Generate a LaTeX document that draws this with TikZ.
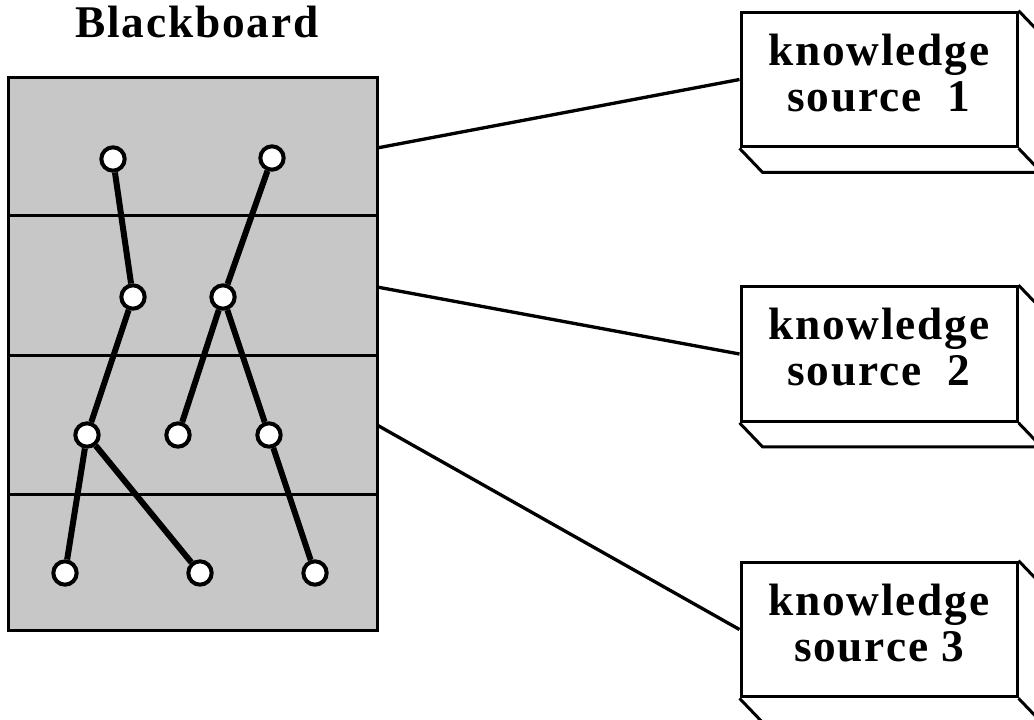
\documentclass[tikz,border=0pt]{standalone}
\usepackage{fontspec}
\setmainfont{Liberation Serif}[LetterSpace=4]
\begin{document}
\begin{tikzpicture}[x=0.75pt,y=-0.75pt,
  every node/.style={font=\fontsize{34}{34.5}\selectfont\bfseries},
  entry/.style={circle,draw,line width=3pt,fill=white,minimum size=17.5pt,inner sep=0pt},
  branch/.style={line width=4.5pt},
  link/.style={line width=2.5pt},
  ks/.style={draw,line width=2.25pt,fill=white,minimum width=207pt,minimum height=101pt,align=center,inner sep=0pt,text depth=10.5pt}]
  \clip (0,0) rectangle (1034,720);
  % the blackboard and its levels
  \node[draw,line width=2.25pt,fill=black!22,minimum width=276.75pt,minimum height=414pt,inner sep=0pt] (board) at (192.5,354) {};
  \draw[line width=2.25pt] (8,216) -- (377,216);
  \draw[line width=2.25pt] (8,355) -- (377,355);
  \draw[line width=2.25pt] (8,494) -- (377,494);
  \node[anchor=base] (title) at (197,38) {Blackboard};
  % hypotheses
  \node[entry] (a1) at (113,159) {};
  \node[entry] (a2) at (272,158) {};
  \node[entry] (b1) at (133,297) {};
  \node[entry] (b2) at (223,297) {};
  \node[entry] (c1) at (87,435) {};
  \node[entry] (c2) at (178,435) {};
  \node[entry] (c3) at (269,435) {};
  \node[entry] (d1) at (65,573) {};
  \node[entry] (d2) at (200,573) {};
  \node[entry] (d3) at (315,573) {};
  \draw[branch] (a1) -- (b1);
  \draw[branch] (b1) -- (c1);
  \draw[branch] (c1) -- (d1);
  \draw[branch] (c1) -- (d2);
  \draw[branch] (a2) -- (b2);
  \draw[branch] (b2) -- (c2);
  \draw[branch] (b2) -- (c3);
  \draw[branch] (c3) -- (d3);
  % knowledge sources
  \node[ks] (ks1) at (879,79.5) {knowledge\\source\ \ 1};
  \node[ks] (ks2) at (879,354) {knowledge\\source\ \ 2};
  \node[ks] (ks3) at (879,629.5) {knowledge\\source 3};
  \draw[line width=2.25pt] (ks1.south west) -- ++(23,24) -- ++(300,0);
  \draw[line width=2.25pt] (ks1.south east) -- ++(23,24);
  \draw[line width=2.25pt] (ks1.north east) -- ++(23,24) -- ++(0,135);
  \draw[line width=2.25pt] (ks2.south west) -- ++(23,24) -- ++(300,0);
  \draw[line width=2.25pt] (ks2.south east) -- ++(23,24);
  \draw[line width=2.25pt] (ks2.north east) -- ++(23,24) -- ++(0,135);
  \draw[line width=2.25pt] (ks3.south west) -- ++(23,24) -- ++(300,0);
  \draw[line width=2.25pt] (ks3.south east) -- ++(23,24);
  \draw[line width=2.25pt] (ks3.north east) -- ++(23,24) -- ++(0,135);
  % links to the board
  \coordinate (p1) at (377,148);
  \coordinate (p2) at (377,287);
  \coordinate (p3) at (377,425);
  \draw[link] (p1) -- (ks1.west);
  \draw[link] (p2) -- (ks2.west);
  \draw[link] (p3) -- (ks3.west);
\end{tikzpicture}
\end{document}
